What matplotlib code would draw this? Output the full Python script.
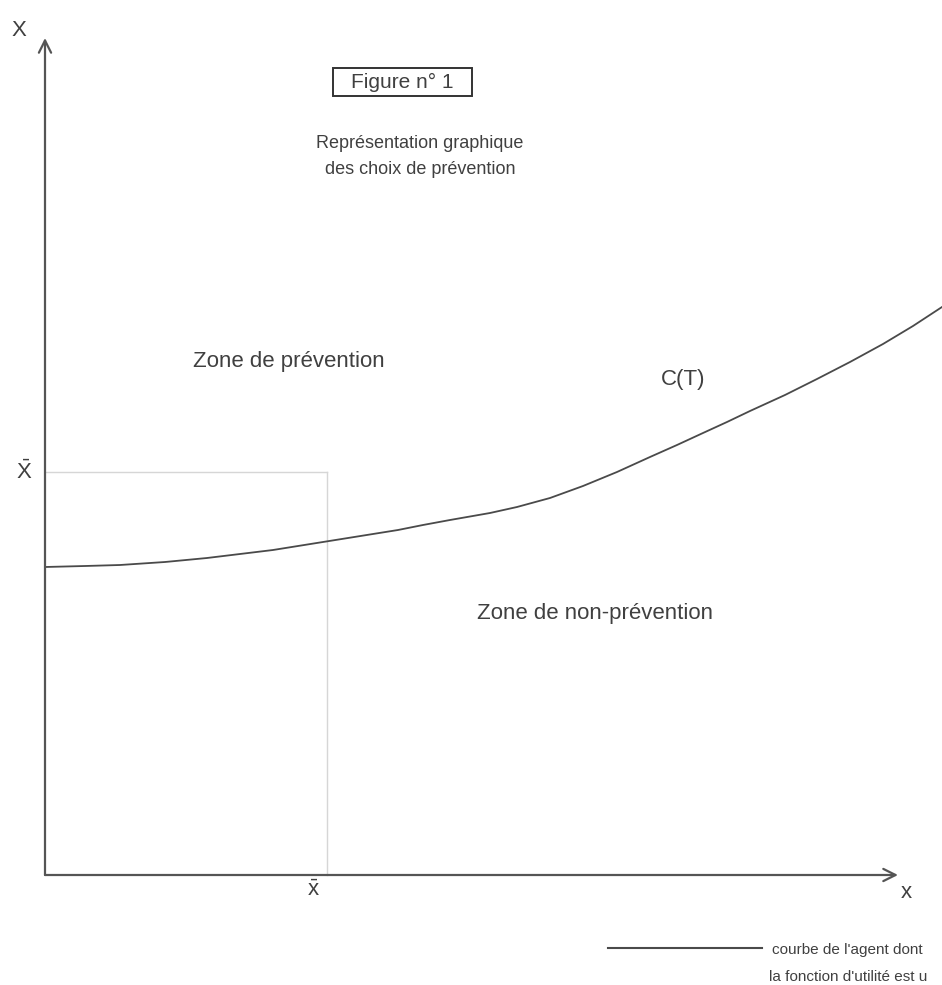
import matplotlib
matplotlib.use("Agg")
import matplotlib.pyplot as plt
from matplotlib.patches import Rectangle

plt.rcParams['font.family'] = ['Liberation Sans', 'DejaVu Sans']
plt.rcParams['mathtext.fontset'] = 'custom'
plt.rcParams['mathtext.rm'] = 'Liberation Sans'
plt.rcParams['mathtext.sf'] = 'Liberation Sans'

# Curve C(T) (origin at axes crossing)
curve_x = [0, 40, 75, 120, 162, 195, 228, 253, 278, 303, 328, 353, 378, 405, 445,
           472, 505, 538, 572, 605, 632, 658, 682, 705, 740, 772, 805, 838, 868, 897]
curve_y = [308, 309, 310, 313, 317, 321, 325, 329, 333, 337, 341, 345, 350, 355, 362,
           368, 377, 389, 403, 418, 430, 442, 453, 464, 480, 496, 513, 531, 549, 568]

# Threshold values (x bar, X bar)
x_bar = 282
X_bar = 403

# Axis extents
x_axis_end = 853
y_axis_end = 837

ink = '#404040'
axis_col = '#555555'

fig = plt.figure(figsize=(9.42, 9.85), dpi=100)
ax = fig.add_axes([0, 0, 1, 1])
ax.set_xlim(-45, 897)
ax.set_ylim(-110, 875)
ax.axis('off')

# axes with arrows
ax.annotate('', xy=(0, y_axis_end), xytext=(0, 0),
            arrowprops=dict(arrowstyle='->', lw=1.6, color=axis_col, mutation_scale=22,
                            shrinkA=0, shrinkB=0))
ax.annotate('', xy=(x_axis_end, 0), xytext=(0, 0),
            arrowprops=dict(arrowstyle='->', lw=1.6, color=axis_col, mutation_scale=22,
                            shrinkA=0, shrinkB=0))

# threshold guide lines
ax.plot([0, x_bar], [X_bar, X_bar], color='#d6d6d6', lw=1.0)
ax.plot([x_bar, x_bar], [0, X_bar], color='#d6d6d6', lw=1.0)

# curve
ax.plot(curve_x, curve_y, color='#4a4a4a', lw=1.3, clip_on=False,
        solid_joinstyle='round')

fs = 16
ax.text(-26, 845, 'X', fontsize=fs, color=ink, ha='center', va='center')
ax.text(861, -18, 'x', fontsize=fs, color=ink, ha='center', va='center')
ax.text(-21, 403, r'$\bar{\mathrm{X}}$', fontsize=fs, color=ink, ha='center', va='center')
ax.text(268, -15, r'$\bar{\mathrm{x}}$', fontsize=fs, color=ink, ha='center', va='center')

# title box
ax.text(357, 793, 'Figure n° 1', fontsize=15, color=ink, ha='center', va='center')
ax.add_patch(Rectangle((288, 779), 139, 28, fill=False, edgecolor='#333333', lw=1.4))
ax.text(375, 732, 'Représentation graphique', fontsize=13, color=ink, ha='center', va='center')
ax.text(375, 705, 'des choix de prévention', fontsize=13, color=ink, ha='center', va='center')

ax.text(244, 513, 'Zone de prévention', fontsize=fs, color=ink, ha='center', va='center')
ax.text(550, 262, 'Zone de non-prévention', fontsize=fs, color=ink, ha='center', va='center')
ax.text(638, 495, 'C(T)', fontsize=fs, color=ink, ha='center', va='center')

# legend
ax.plot([563, 717], [-73, -73], color='#4a4a4a', lw=1.5)
ax.text(727, -75, "courbe de l'agent dont", fontsize=11, color=ink, ha='left', va='center')
ax.text(724, -102, "la fonction d'utilité est u", fontsize=11, color=ink, ha='left', va='center')

fig.savefig('out.png', dpi=100, facecolor='white')
